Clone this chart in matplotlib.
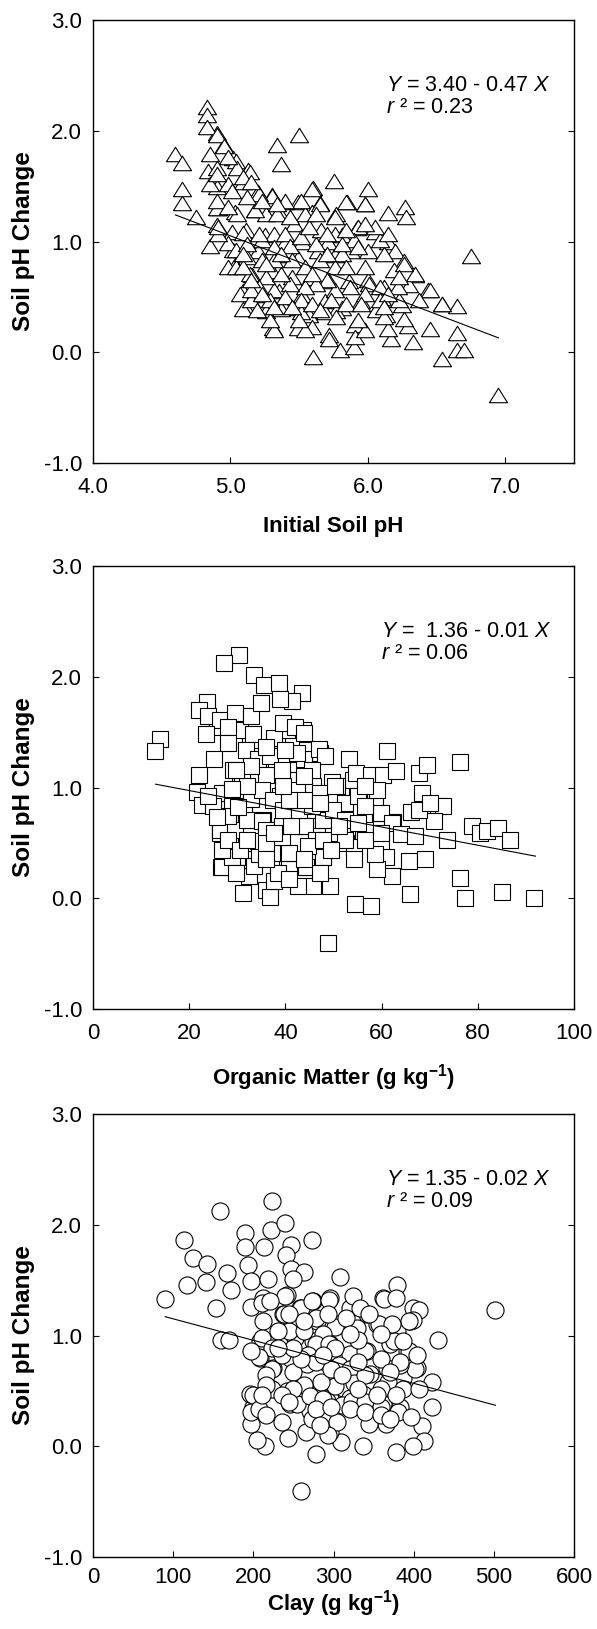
import matplotlib
matplotlib.use("Agg")
import matplotlib.pyplot as plt

plt.rcParams['font.family'] = ['Liberation Sans', 'DejaVu Sans']
plt.rcParams['mathtext.fontset'] = 'custom'
plt.rcParams['mathtext.rm'] = 'Liberation Sans'
plt.rcParams['mathtext.it'] = 'Liberation Sans:italic'
plt.rcParams['mathtext.bf'] = 'Liberation Sans:bold'

# ---- panel 1: initial soil pH vs pH change (triangles)
# dense middle of the cloud (drawn first)
ph_core_x = [4.90, 4.95, 5.02, 5.13, 5.09, 5.20, 5.30, 5.40, 5.49, 5.60, 5.65, 5.85, 5.98, 5.77,
             5.59, 5.46, 5.35, 5.18, 5.03, 4.91, 4.90, 5.01, 5.11, 5.25, 5.40, 5.52, 5.71, 5.81,
             5.92, 6.05, 6.15, 6.20, 6.26, 6.34, 6.00, 5.88, 5.76, 5.64, 5.49, 5.35, 5.20, 5.02,
             5.03, 5.16, 5.30, 5.45, 5.58, 5.72, 5.86, 6.00, 6.12, 6.30, 6.44, 6.54, 5.09, 5.23,
             5.35, 5.52, 5.69, 5.81, 5.95, 6.10, 6.25, 5.11, 5.26, 5.40, 5.57, 5.77, 5.91, 6.13,
             5.31, 5.49, 5.72]
ph_core_y = [1.98, 1.87, 1.75, 1.65, 1.54, 1.45, 1.42, 1.36, 1.36, 1.48, 1.35, 1.36, 1.34, 1.25,
             1.27, 1.16, 1.27, 1.28, 1.27, 1.30, 1.15, 1.09, 1.10, 1.06, 1.00, 1.00, 1.00, 1.06,
             1.12, 1.09, 1.00, 0.91, 0.82, 0.70, 0.91, 0.91, 0.88, 0.91, 0.85, 0.88, 0.91, 0.92,
             0.79, 0.70, 0.73, 0.68, 0.67, 0.64, 0.64, 0.65, 0.59, 0.61, 0.56, 0.44, 0.55, 0.52,
             0.55, 0.52, 0.46, 0.40, 0.46, 0.49, 0.43, 0.40, 0.37, 0.40, 0.34, 0.37, 0.25, 0.34,
             0.22, 0.22, 0.16]
ph_x = [4.83, 4.83, 4.83, 4.90, 4.60, 4.65, 4.85, 4.95, 4.84, 4.90, 5.04, 5.05, 5.14, 4.98,
        4.65, 4.65, 4.75, 4.85, 4.90, 4.90, 4.85, 4.98, 5.34, 5.37, 5.50, 5.75, 5.59, 6.00,
        5.98, 5.84, 6.15, 6.27, 6.28, 6.75, 6.95, 6.54, 6.65, 6.65, 6.70, 6.65, 6.54, 6.45,
        6.45, 6.33, 6.34, 6.29, 6.17, 6.15, 5.60, 5.80, 5.72, 5.90, 5.91, 5.98, 5.59, 5.54,
        5.32, 5.29, 5.09, 5.07, 5.15, 5.19, 5.37, 5.51, 5.50, 5.69, 5.77, 5.93, 6.06, 6.12,
        6.26, 6.23, 6.22, 6.19, 6.12, 6.26, 6.09, 6.05, 5.93, 5.90, 5.76, 5.76, 5.65, 5.54,
        5.51, 5.40, 5.30, 5.21, 5.09, 5.15, 5.05, 5.01, 5.09, 4.98, 5.04, 4.98, 5.04, 5.14,
        5.12, 5.26, 5.34, 5.18, 5.23, 5.32, 5.40, 5.43, 5.51, 5.62, 5.66, 5.57, 5.45, 5.54,
        5.65, 5.76, 5.81, 5.84, 5.93, 5.98, 6.01, 6.09, 5.98, 5.87, 5.76, 5.70, 5.62, 5.54,
        5.43, 5.32, 5.26, 5.37, 5.23, 5.32, 5.40, 5.29, 5.51, 5.59, 5.73, 5.84, 5.95, 6.09,
        6.15, 6.23, 6.15, 5.98, 5.84, 5.70, 5.59, 5.21, 5.15, 5.12, 5.21, 4.91, 4.91, 4.90,
        4.90, 4.98, 5.12, 5.23, 5.34, 5.43, 5.62, 5.70, 5.81, 5.32, 5.37, 5.26, 5.09, 5.15,
        5.23, 5.32, 5.45, 5.65, 6.12, 6.37, 5.09]
ph_y = [2.21, 2.14, 2.03, 1.96, 1.79, 1.71, 1.79, 1.86, 1.64, 1.66, 1.73, 1.66, 1.63, 1.76,
        1.47, 1.35, 1.22, 0.96, 1.30, 1.49, 1.52, 1.52, 1.87, 1.70, 1.96, 1.55, 1.47, 1.47,
        1.34, 1.36, 1.26, 1.31, 1.22, 0.87, -0.39, -0.06, 0.02, 0.17, 0.02, 0.42, 0.44, 0.21,
        0.56, 0.09, 0.71, 0.24, 0.12, 0.21, -0.04, 0.02, 0.12, 0.05, 0.14, 0.20, 0.23, 0.20,
        0.20, 0.29, 0.39, 0.53, 0.47, 0.38, 0.39, 0.36, 0.29, 0.36, 0.32, 0.29, 0.38, 0.32,
        0.30, 0.47, 0.59, 0.74, 0.89, 0.80, 1.01, 1.13, 1.13, 1.01, 1.22, 1.07, 1.34, 1.25,
        1.37, 1.37, 1.41, 1.43, 1.58, 1.54, 1.25, 1.46, 1.08, 0.99, 0.92, 0.77, 0.77, 0.71,
        0.86, 1.25, 1.25, 1.28, 1.01, 1.07, 1.07, 0.96, 1.04, 0.98, 1.10, 1.13, 0.83, 0.77,
        0.83, 0.77, 0.89, 0.77, 0.95, 0.77, 0.62, 0.59, 0.53, 0.59, 0.56, 0.65, 0.62, 0.59,
        0.62, 0.56, 0.68, 0.71, 0.83, 0.83, 0.50, 0.47, 0.47, 0.44, 0.47, 0.44, 0.44, 0.47,
        0.53, 0.68, 1.07, 1.16, 1.10, 0.89, 0.71, 0.59, 0.56, 0.98, 1.07, 1.07, 1.13, 1.37,
        1.61, 1.31, 1.40, 1.37, 1.34, 1.22, 1.25, 1.07, 0.98, 0.95, 0.89, 0.80, 0.77, 0.65,
        0.53, 0.41, 0.41, 0.38, 0.41, 0.47, 0.89]
ph_fit_x = [4.60, 6.95]
ph_fit_y = [1.24, 0.13]

# ---- panel 2: organic matter vs pH change (squares)
om_core_x = [30.6, 33.3, 36.1, 38.9, 42.3, 45.8, 48.6, 52.0, 54.8, 58.3, 59.7, 62.4, 31.9, 35.4,
             38.2, 41.3, 44.4, 47.2, 50.0, 52.7, 56.2, 26.4, 28.5, 32.6, 34.7, 37.5, 40.3, 44.4,
             47.9, 26.7, 29.9, 31.3, 27.8, 29.2, 34.7, 38.2, 40.3, 43.7, 44.4, 47.2, 39.6, 42.3,
             32.6, 30.6, 25.7, 23.6, 54.1, 50.7]
om_core_y = [1.07, 0.98, 1.01, 0.92, 0.98, 1.01, 0.89, 0.86, 0.92, 0.86, 0.77, 0.69, 0.71, 0.71,
             0.62, 0.65, 0.65, 0.56, 0.59, 0.50, 0.59, 0.62, 0.50, 0.50, 0.40, 0.37, 0.26, 0.28,
             0.37, 0.28, 0.37, 0.83, 0.95, 1.16, 1.25, 1.43, 1.52, 1.52, 1.34, 1.31, 1.22, 1.16,
             1.43, 1.52, 1.55, 1.70, 1.07, 1.01]
om_x = [30.3, 27.2, 33.5, 35.6, 38.6, 43.5, 41.4, 38.8, 23.8, 22.0, 24.0, 26.4, 29.5, 32.8,
        34.9, 28.1, 23.5, 13.9, 12.9, 28.1, 33.3, 37.6, 39.6, 42.0, 43.8, 25.2, 31.8, 34.3,
        36.8, 43.9, 46.9, 48.3, 22.0, 30.9, 36.0, 40.5, 45.5, 49.7, 53.3, 54.6, 57.7, 60.2,
        61.2, 62.9, 67.7, 69.5, 76.4, 21.6, 22.6, 26.9, 28.9, 32.8, 35.2, 37.5, 42.5, 47.1,
        50.3, 52.3, 55.0, 58.6, 59.8, 66.1, 68.5, 71.7, 72.7, 70.9, 62.2, 64.0, 66.9, 59.8,
        73.6, 78.8, 80.4, 82.0, 84.2, 86.7, 76.4, 77.4, 85.0, 91.7, 66.0, 61.0, 62.2, 59.0,
        58.6, 65.7, 69.0, 54.5, 57.7, 48.9, 49.3, 45.8, 42.6, 31.1, 36.0, 36.8, 37.6, 40.8,
        44.3, 47.9, 54.2, 54.2, 32.5, 33.5, 26.8, 28.9, 34.5, 37.2, 40.8, 34.3, 39.2, 44.0,
        46.3, 49.9, 52.3, 56.6, 26.8, 26.5, 26.5, 29.5, 32.1, 35.2, 36.0, 39.2, 41.2, 47.9,
        49.9, 52.3, 55.0, 56.6, 28.1, 30.1, 39.6, 42.8, 45.5, 43.9, 40.8, 39.6, 32.1, 28.9,
        24.9, 24.0, 25.7, 28.1, 30.5, 32.1, 36.0, 37.6, 44.7, 47.9, 49.5, 51.1, 59.8, 56.6,
        67.7, 70.1, 59.0, 56.6, 50.3, 43.9, 39.2, 42.4, 40.0, 36.0, 32.8, 29.7, 47.1, 38.4,
        40.8, 47.1, 29.7, 36.0, 43.9]
om_y = [2.20, 2.12, 2.02, 1.93, 1.94, 1.85, 1.78, 1.80, 1.77, 1.70, 1.65, 1.61, 1.67, 1.65,
        1.76, 1.55, 1.48, 1.44, 1.33, 1.40, 1.48, 1.45, 1.58, 1.55, 1.49, 1.26, 1.34, 1.26,
        1.28, 1.26, 1.35, 1.28, 1.11, 1.08, 1.11, 1.07, 1.16, 1.05, 1.26, 1.13, 1.11, 1.11,
        1.33, 1.15, 1.13, 1.20, 1.23, 0.96, 0.84, 0.95, 0.83, 0.90, 0.98, 0.89, 0.98, 0.95,
        0.89, 0.86, 0.92, 0.87, 0.77, 0.78, 0.95, 0.83, 0.83, 0.70, 0.68, 0.58, 0.56, 0.50,
        0.53, 0.65, 0.59, 0.61, 0.63, 0.53, 0.18, 0.00, 0.06, 0.00, 0.04, 0.37, 0.20, 0.26,
        0.40, 0.34, 0.35, -0.05, -0.07, -0.40, 0.11, 0.11, 0.11, 0.05, 0.07, 0.01, 0.16, 0.26,
        0.28, 0.37, 0.46, 0.35, 0.20, 0.29, 0.28, 0.37, 0.40, 0.41, 0.41, 0.52, 0.55, 0.65,
        0.53, 0.59, 0.53, 0.62, 0.44, 0.59, 0.62, 0.62, 0.71, 0.70, 0.62, 0.65, 0.65, 0.71,
        0.80, 0.71, 0.68, 0.53, 0.74, 0.82, 0.80, 0.80, 0.83, 0.89, 0.89, 1.01, 1.01, 0.99,
        0.83, 0.92, 0.73, 0.53, 0.44, 0.53, 0.50, 0.59, 0.47, 0.53, 0.44, 0.65, 0.59, 0.83,
        0.80, 0.86, 0.98, 1.01, 1.01, 1.10, 1.16, 1.31, 1.34, 1.37, 1.19, 1.16, 0.86, 0.23,
        0.17, 0.23, 0.23, 0.35, 0.35]
om_fit_x = [13.0, 92.0]
om_fit_y = [1.03, 0.38]

# ---- panel 3: clay vs pH change (circles)
clay_core_x = [212.5, 241.6, 258.2, 274.8, 295.6, 320.6, 341.4, 362.2, 212.5, 237.4, 254.1, 279.0,
               303.9, 328.9, 353.8, 378.8, 395.4, 208.3, 229.1, 249.9, 274.8, 295.6, 320.6, 341.4,
               370.5, 391.3, 208.3, 224.9, 245.7, 266.5, 287.3, 303.9, 324.7, 345.5, 366.3, 387.1,
               403.7, 220.8, 241.6, 258.2, 279.0, 295.6, 312.3, 320.6, 337.2, 362.2, 200.0, 245.7,
               270.7, 291.5, 195.8, 345.5, 382.9]
clay_core_y = [1.34, 1.37, 1.25, 1.31, 1.34, 1.25, 1.19, 1.34, 1.13, 1.19, 1.07, 1.13, 1.10, 1.07,
               1.10, 1.04, 1.13, 0.95, 0.89, 1.01, 0.95, 0.92, 0.83, 0.86, 0.92, 0.86, 0.80, 0.71,
               0.80, 0.74, 0.77, 0.71, 0.71, 0.65, 0.71, 0.62, 0.71, 0.53, 0.50, 0.53, 0.47, 0.44,
               0.53, 0.44, 0.47, 0.38, 0.35, 0.38, 0.32, 0.41, 0.47, 0.26, 0.35]
clay_x = [90.3, 113.1, 124.9, 117.3, 141.1, 142.5, 158.2, 153.4, 159.1, 169.6, 167.7, 172.0,
          189.1, 189.1, 193.3, 197.1, 197.1, 212.8, 221.9, 223.3, 239.9, 247.0, 240.9, 247.0,
          263.7, 273.2, 218.5, 249.4, 239.9, 211.4, 220.9, 238.5, 258.9, 273.2, 294.5, 307.8,
          324.5, 332.5, 363.4, 378.6, 377.7, 399.0, 406.2, 399.0, 501.2, 430.9, 422.8, 422.8,
          410.9, 412.4, 399.0, 377.7, 380.0, 396.7, 365.6, 344.4, 337.3, 308.8, 295.9, 277.9,
          258.9, 265.1, 243.2, 214.7, 204.8, 197.1, 197.1, 199.5, 206.6, 235.2, 254.2, 273.2,
          287.4, 304.0, 311.2, 323.0, 339.7, 358.7, 368.2, 387.2, 401.4, 382.4, 358.7, 339.7,
          375.3, 394.3, 394.3, 356.3, 372.9, 330.2, 301.7, 287.4, 277.9, 294.5, 251.8, 244.7,
          230.4, 211.4, 223.3, 206.6, 197.1, 223.3, 249.4, 268.4, 277.9, 306.4, 320.7, 301.7,
          285.0, 263.7, 249.4, 223.3, 235.2, 270.8, 287.4, 325.4, 339.7, 358.7, 387.2, 358.7,
          344.4, 315.9, 301.7, 263.7, 277.9, 244.7, 235.2, 258.9, 296.9, 311.2, 330.2, 353.9,
          377.7, 406.2, 403.8, 382.4, 216.2, 216.2, 211.4, 244.7, 277.9, 296.9, 320.7, 339.7,
          358.7, 216.2, 370.5, 330.2, 249.4, 287.4, 320.7, 292.6, 263.7, 230.4, 292.6, 283.1,
          370.5]
clay_y = [1.33, 1.86, 1.70, 1.46, 1.48, 1.65, 2.12, 1.25, 0.96, 0.96, 1.56, 1.41, 1.93, 1.80,
          1.64, 1.49, 1.26, 1.80, 1.95, 2.21, 2.02, 1.82, 1.73, 1.60, 1.57, 1.86, 1.51, 1.51,
          1.36, 1.29, 1.31, 1.19, 1.25, 1.31, 1.32, 1.53, 1.36, 1.25, 1.33, 1.46, 1.34, 1.25,
          1.23, 1.14, 1.23, 0.96, 0.58, 0.35, 0.18, 0.05, 0.00, -0.05, 0.31, 0.26, 0.20, 0.20,
          0.00, 0.04, 0.13, -0.07, -0.40, 0.13, 0.07, 0.00, 0.06, 0.20, 0.31, 0.46, 0.34, 0.22,
          0.38, 0.25, 0.28, 0.22, 0.37, 0.41, 0.40, 0.35, 0.58, 0.52, 0.70, 0.73, 0.79, 0.86,
          0.95, 0.86, 1.13, 1.10, 1.10, 0.96, 1.08, 1.01, 0.92, 0.92, 0.98, 1.04, 1.04, 0.98,
          0.89, 0.81, 0.86, 0.70, 0.67, 0.82, 0.76, 0.73, 0.70, 0.54, 0.58, 0.55, 0.52, 0.52,
          0.46, 0.45, 0.43, 0.57, 0.64, 0.52, 0.95, 1.01, 1.19, 1.16, 0.89, 1.04, 1.16, 1.19,
          0.82, 0.79, 0.70, 0.64, 0.52, 0.46, 0.46, 0.52, 0.82, 0.76, 0.64, 0.55, 0.46, 0.40,
          0.34, 0.35, 0.34, 0.31, 0.28, 0.28, 0.67, 0.76, 0.89, 0.82, 1.01, 1.19, 1.13, 0.89,
          0.10, 0.19, 0.25]
clay_fit_x = [90.0, 502.0]
clay_fit_y = [1.17, 0.37]

eq_text = [r'$\mathit{Y}$ = 3.40 - 0.47 $\mathit{X}$',
           r'$\mathit{Y}$ =  1.36 - 0.01 $\mathit{X}$',
           r'$\mathit{Y}$ = 1.35 - 0.02 $\mathit{X}$']
r2_text = [r'$\mathit{r}$ ² = 0.23', r'$\mathit{r}$ ² = 0.06', r'$\mathit{r}$ ² = 0.09']
x_labels = ['Initial Soil pH',
            r'Organic Matter (g kg$^{\mathbf{-1}}$)',
            r'Clay (g kg$^{\mathbf{-1}}$)']

tri = [(-1, -0.8), (1, -0.8), (0, 0.8), (-1, -0.8)]

fig = plt.figure(figsize=(5.97, 16.29), dpi=100)
W, H = 597.0, 1629.0
tops = [20, 566, 1114]
axes = []
for t in tops:
    ax = fig.add_axes([93 / W, 1 - (t + 443) / H, 481 / W, 443 / H])
    axes.append(ax)

# per panel: markers, limits, ticks, text x, x tick pad, x label pad
panels = [
    (ph_core_x, ph_core_y, ph_x, ph_y, ph_fit_x, ph_fit_y, tri, 13.0, (4.0, 7.5),
     [4.0, 5.0, 6.0, 7.0], ['4.0', '5.0', '6.0', '7.0'], 0.61, 10, 13),
    (om_core_x, om_core_y, om_x, om_y, om_fit_x, om_fit_y, 's', 11.0, (0, 100),
     [0, 20, 40, 60, 80, 100], ['0', '20', '40', '60', '80', '100'], 0.598, 10, 13),
    (clay_core_x, clay_core_y, clay_x, clay_y, clay_fit_x, clay_fit_y, 'o', 12.3, (0, 600),
     [0, 100, 200, 300, 400, 500, 600], ['0', '100', '200', '300', '400', '500', '600'], 0.61, 7, 0),
]

for i, ax in enumerate(axes):
    cx, cy, xs, ys, fx, fy, mk, ms, xlim, xt, xtl, tx, tp, lp = panels[i]
    style = dict(linestyle='None', marker=mk, markersize=ms, markerfacecolor='white',
                 markeredgecolor='black', markeredgewidth=0.8, zorder=2)
    ax.plot(cx, cy, **style)
    ax.plot(xs, ys, **style)
    ax.plot(fx, fy, color='black', linewidth=0.8, zorder=3)
    ax.set_xlim(*xlim)
    ax.set_ylim(-1, 3)
    ax.set_xticks(xt)
    ax.set_xticklabels(xtl)
    ax.set_yticks([-1, 0, 1, 2, 3])
    ax.set_yticklabels(['-1.0', '0.0', '1.0', '2.0', '3.0'])
    ax.tick_params(axis='both', direction='in', length=4, width=0.8, labelsize=16, pad=8,
                   right=True, top=False)
    ax.tick_params(axis='x', pad=tp)
    for sp in ax.spines.values():
        sp.set_linewidth(1.0)
    ax.set_ylabel('Soil pH Change', fontsize=17.5, fontweight='bold', labelpad=6)
    ax.set_xlabel(x_labels[i], fontsize=16, fontweight='bold', labelpad=lp)
    ax.text(tx, 0.839, eq_text[i], transform=ax.transAxes, fontsize=15.5, va='baseline')
    ax.text(tx, 0.789, r2_text[i], transform=ax.transAxes, fontsize=15.5, va='baseline')

fig.savefig('out.png', dpi=100)
